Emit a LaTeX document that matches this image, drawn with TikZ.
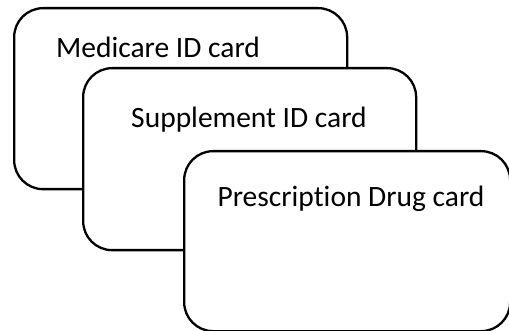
\documentclass[tikz,border=0pt]{standalone}
\usepackage{fontspec}
\setmainfont[Ligatures=NoCommon]{Carlito}
\usetikzlibrary{shapes}
\tikzstyle{card}=[draw,line width=2.3pt,fill=white,rounded corners=29pt,anchor=north west,inner sep=0pt]
\tikzstyle{caption}=[anchor=base,inner sep=0pt,font=\fontsize{29.5}{35}\selectfont]

\begin{document}
\begin{tikzpicture}[x=1pt,y=-1pt]
      \useasboundingbox (0,0) rectangle (509,331);
      \node[card,minimum width=333pt,minimum height=181pt] (medicare) at (13,7) {};
      \node[caption] (medicaretext) at (158,58) {Medicare ID card};
      \node[card,minimum width=333pt,minimum height=182pt] (supplement) at (82,67) {};
      \node[caption] (supplementtext) at (249,128) {Supplement ID card};
      \node[card,minimum width=326pt,minimum height=180pt] (drug) at (183,150) {};
      \node[caption] (drugtext) at (351,207) {Prescription Drug card};
    \end{tikzpicture}
\end{document}
